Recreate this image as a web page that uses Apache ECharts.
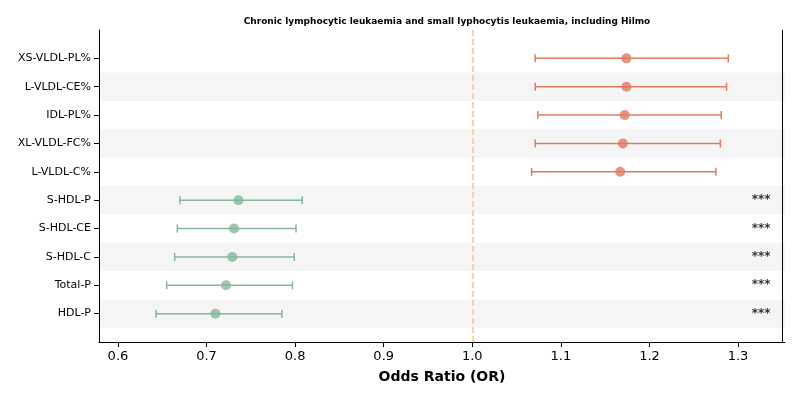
<!DOCTYPE html>
<html>
<head>
<meta charset="utf-8">
<script src="https://cdn.jsdelivr.net/npm/echarts@6/dist/echarts.min.js"></script>
<style>body{margin:0}#c{width:800px;height:400px}</style>
</head>
<body>
<div id="c"></div>
<script>
// bottom to top
var traits = ['HDL-P', 'Total-P', 'S-HDL-C', 'S-HDL-CE', 'S-HDL-P', 'L-VLDL-C%', 'XL-VLDL-FC%', 'IDL-PL%', 'L-VLDL-CE%', 'XS-VLDL-PL%'];
var orValues = [0.710, 0.722, 0.729, 0.731, 0.736, 1.167, 1.170, 1.172, 1.174, 1.174];
var ciLow = [0.643, 0.655, 0.664, 0.667, 0.670, 1.067, 1.071, 1.074, 1.071, 1.071];
var ciHigh = [0.785, 0.797, 0.799, 0.801, 0.808, 1.275, 1.280, 1.281, 1.287, 1.289];
var stars = ['***', '***', '***', '***', '***', '', '', '', '', ''];
var xTicks = [0.6, 0.7, 0.8, 0.9, 1.0, 1.1, 1.2, 1.3];

var RED = '#e07b5f', GREEN = '#84b89a';
function col(i) { return orValues[i] > 1 ? RED : GREEN; }

var bands = [];
for (var i = 0; i < traits.length; i += 2) {
    bands.push([{ yAxis: i - 0.5 }, { yAxis: i + 0.5 }]);
}

var chart = echarts.init(document.getElementById('c'));
chart.setOption({
    animation: false,
    title: {
        text: 'Chronic lymphocytic leukaemia and small lyphocytis leukaemia, including Hilmo',
        left: 442, top: 12, textAlign: 'center',
        textStyle: { fontSize: 9, fontWeight: 'bold', fontFamily: 'DejaVu Sans', color: '#000' }
    },
    grid: { left: 99, right: 15, top: 30, bottom: 58 },
    xAxis: {
        type: 'value', min: 0.5786, max: 1.353,
        name: 'Odds Ratio (OR)', nameLocation: 'middle', nameGap: 28,
        nameTextStyle: { fontSize: 14, fontWeight: 'bold', fontFamily: 'DejaVu Sans', color: '#000' },
        axisLine: { onZero: false, lineStyle: { color: '#000' } },
        axisTick: { lineStyle: { color: '#000' }, customValues: xTicks },
        axisLabel: {
            fontSize: 13, fontFamily: 'DejaVu Sans', color: '#000',
            customValues: xTicks,
            formatter: function (v) { return v.toFixed(1); }
        },
        splitLine: { show: false }
    },
    yAxis: {
        type: 'value', min: -1, max: 10, interval: 1, z: 10,
        axisLine: { show: true, lineStyle: { color: '#000' } },
        axisTick: {
            show: true, lineStyle: { color: '#000' },
            customValues: [0, 1, 2, 3, 4, 5, 6, 7, 8, 9]
        },
        axisLabel: {
            fontSize: 11, fontFamily: 'DejaVu Sans', color: '#000',
            customValues: [0, 1, 2, 3, 4, 5, 6, 7, 8, 9],
            formatter: function (v) { return traits[v] || ''; }
        },
        splitLine: { show: false }
    },
    series: [
        {
            type: 'custom',
            data: traits.map(function (t, i) { return [ciLow[i], ciHigh[i], i]; }),
            renderItem: function (params, api) {
                var i = params.dataIndex;
                var a = api.coord([api.value(0), api.value(2)]);
                var b = api.coord([api.value(1), api.value(2)]);
                var s = { stroke: col(i), lineWidth: 1.5 };
                return {
                    type: 'group', children: [
                        { type: 'line', shape: { x1: a[0], y1: a[1], x2: b[0], y2: b[1] }, style: s },
                        { type: 'line', shape: { x1: a[0], y1: a[1] - 4, x2: a[0], y2: a[1] + 4 }, style: s },
                        { type: 'line', shape: { x1: b[0], y1: b[1] - 4, x2: b[0], y2: b[1] + 4 }, style: s }
                    ]
                };
            },
            markArea: { silent: true, itemStyle: { color: '#f5f5f5' }, data: bands },
            markLine: {
                silent: true, symbol: 'none', label: { show: false },
                lineStyle: { color: '#f5c77e', type: 'dashed', width: 1.5 },
                data: [{ xAxis: 1.0 }]
            },
            z: 2
        },
        {
            type: 'scatter', symbolSize: 10,
            data: orValues.map(function (v, i) { return { value: [v, i], itemStyle: { color: col(i) } }; }),
            z: 3
        },
        {
            type: 'scatter', symbolSize: 0,
            data: stars.map(function (s, i) { return [1.326, i, s]; }),
            label: {
                show: true, position: 'inside', color: '#000', fontWeight: 'bold',
                fontSize: 12, fontFamily: 'DejaVu Sans',
                formatter: function (p) { return p.value[2]; }
            }
        },
        {
            type: 'line', data: [], markLine: {
                silent: true, symbol: 'none', label: { show: false },
                lineStyle: { color: '#000', type: 'solid', width: 1 },
                data: [{ xAxis: 1.353 }]
            }
        }
    ]
});
</script>
</body>
</html>
